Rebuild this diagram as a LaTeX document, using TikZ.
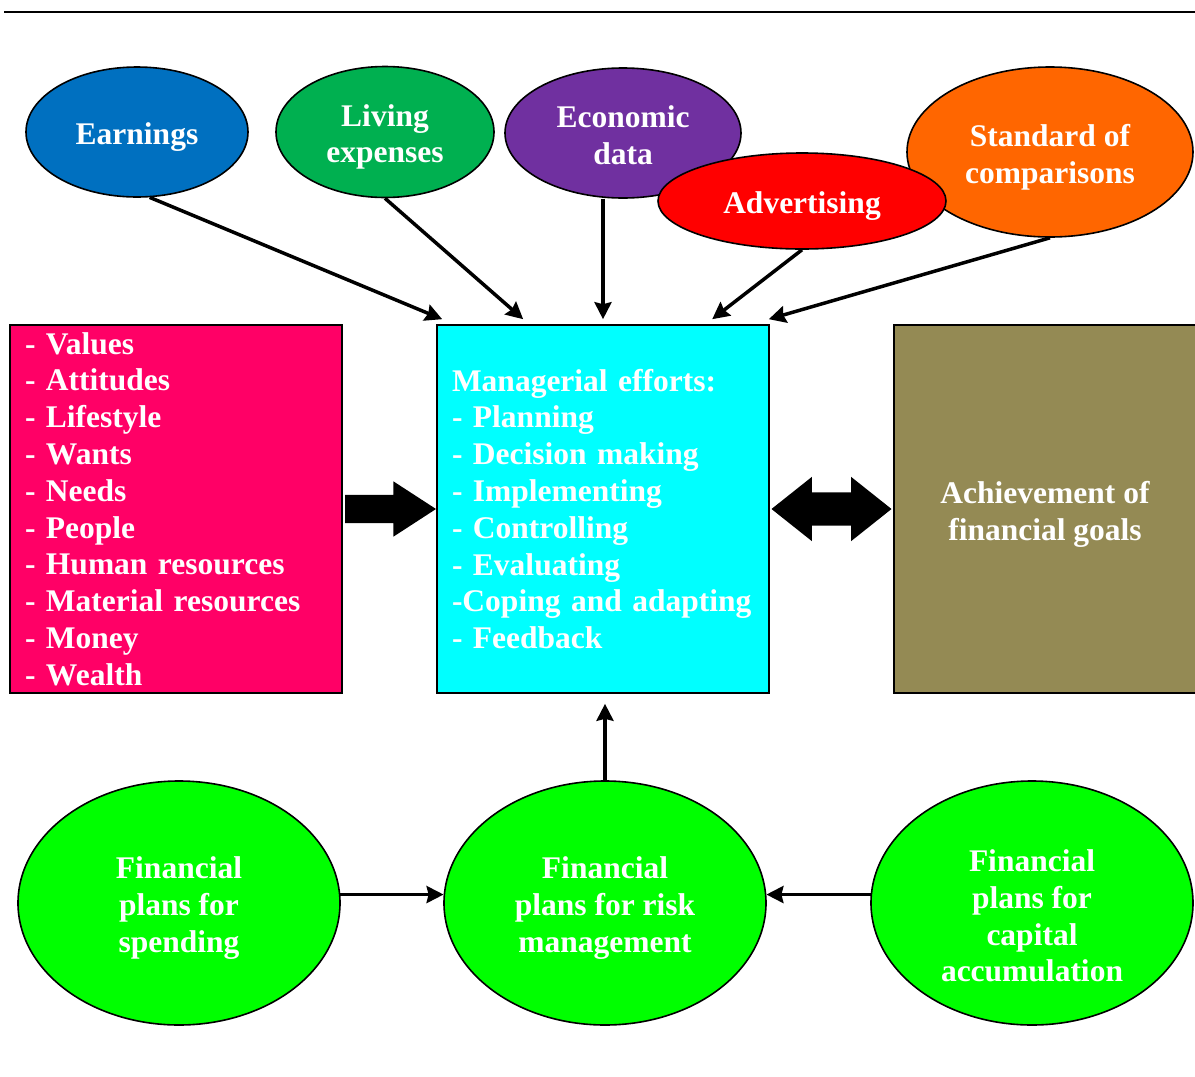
\documentclass[tikz,border=0pt]{standalone}
\usepackage{fontspec}
\setmainfont{Liberation Serif}
\usepackage{xcolor}
\usetikzlibrary{shapes.geometric,shapes.arrows,arrows.meta,calc}

\definecolor{earnblue}{HTML}{0070C0}
\definecolor{livegreen}{HTML}{00B050}
\definecolor{econpurple}{HTML}{7030A0}
\definecolor{stdorange}{HTML}{FF6600}
\definecolor{valuepink}{HTML}{FF0066}
\definecolor{mgmtcyan}{HTML}{00FFFF}
\definecolor{goalolive}{HTML}{948A54}
\definecolor{plangreen}{HTML}{00FF00}

\tikzset{
	bigtext/.style={text=white, font=\bfseries\fontsize{31.5}{36.8}\selectfont},
	words/.style={bigtext, align=center, yshift=-5pt},
	bubble/.style={ellipse, draw=black, line width=1.6pt, inner sep=0pt},
	block/.style={rectangle, draw=black, line width=1.6pt, minimum height=368, inner xsep=15pt, inner ysep=0pt, bigtext},
	arr/.style={line width=3.5pt, -{Stealth[length=17pt,width=17pt,inset=2pt]}},
	fatarrow/.style={single arrow, fill=black, inner xsep=0pt, inner ysep=14pt, minimum height=91,
		single arrow head extend=13.5pt, single arrow tip angle=66},
	fatboth/.style={double arrow, fill=black, inner xsep=0pt, inner ysep=16.5pt, minimum height=120,
		double arrow head extend=15.5pt, double arrow tip angle=77},
}

\begin{document}
	\begin{tikzpicture}[x=1pt, y=-1pt]
		\clip (0,0) rectangle (1195,1077);
		\draw[line width=2.5pt] (4,12) -- (1195,12);

		% influences on top
		\node[bubble, fill=earnblue, minimum width=222, minimum height=130,
			label={[words]center:Earnings}] (earn) at (137,132) {};
		\node[bubble, fill=livegreen, minimum width=218, minimum height=131,
			label={[words]center:Living\\expenses}] (live) at (385,132) {};
		\node[bubble, fill=econpurple, minimum width=236, minimum height=130,
			label={[words, yshift=3pt]center:Economic\\data}] (econ) at (623,133) {};
		\node[bubble, fill=stdorange, minimum width=286, minimum height=170,
			label={[words]center:Standard of\\comparisons}] (std) at (1050,152) {};
		\node[bubble, fill=red, minimum width=288, minimum height=96,
			label={[words]center:Advertising}] (adv) at (802,201) {};

		% the three boxes
		\node[block, fill=valuepink, text width=302, align=left] (values) at (176,509)
			{- Values\\- Attitudes\\- Lifestyle\\- Wants\\- Needs\\- People\\- Human resources\\- Material resources\\- Money\\- Wealth};
		\node[block, fill=mgmtcyan, text width=302, align=left] (mgmt) at (603,509)
			{Managerial efforts:\\- Planning\\- Decision making\\- Implementing\\- Controlling\\- Evaluating\\-Coping and adapting\\- Feedback};
		\node[block, fill=goalolive, minimum width=302,
			label={[words]center:Achievement of\\financial goals}] (goal) at (1045,509) {};

		\node[fatarrow, anchor=tail] (push) at ($(values.east)+(2,0)$) {};
		\node[fatboth] (link) at ($(mgmt.east)!0.5!(goal.west)$) {};

		% financial plans
		\node[bubble, fill=plangreen, minimum width=322, minimum height=244,
			label={[words]center:Financial\\plans for\\spending}] (spend) at (179,903) {};
		\node[bubble, fill=plangreen, minimum width=322, minimum height=244,
			label={[words]center:Financial\\plans for risk\\management}] (risk) at (605,903) {};
		\node[bubble, fill=plangreen, minimum width=322, minimum height=244,
			label={[words, yshift=-8pt]center:Financial\\plans for\\capital\\accumulation}] (cap) at (1032,903) {};

		\draw[arr] (earn.-79) -- ($(mgmt.north west)+(6,-5)$);
		\draw[arr] (live.south) -- ($(mgmt.north west)+(87,-5)$);
		\draw[arr] (econ.south -| mgmt.north) -- ($(mgmt.north)+(0,-5)$);
		\draw[arr] (adv.south) -- ($(mgmt.north west)+(276,-5)$);
		\draw[arr] (std.south) -- ($(mgmt.north east)+(-1,-5)$);

		\draw[arr] (spend.3) -- (risk.177);
		\draw[arr] (cap.177) -- (risk.3);
		\draw[arr, shorten >=10pt] (risk.north) -- (risk.north |- mgmt.south);
	\end{tikzpicture}
\end{document}
